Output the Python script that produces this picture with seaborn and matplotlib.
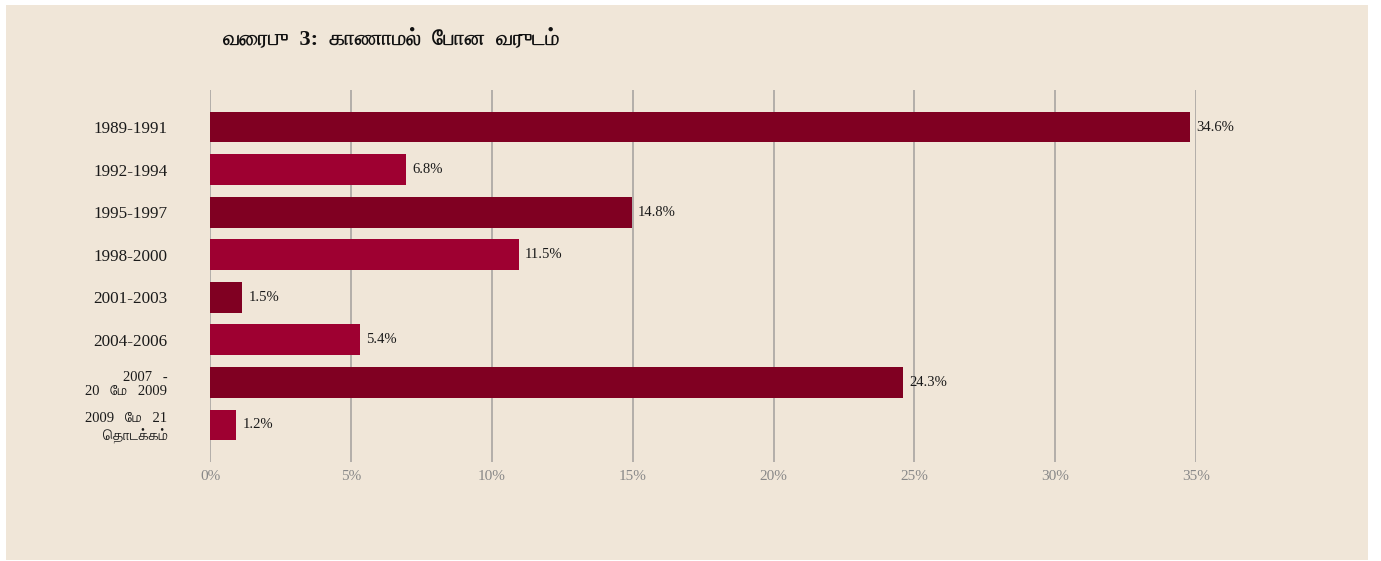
import matplotlib
matplotlib.use("Agg")
import matplotlib.pyplot as plt
from matplotlib.patches import Rectangle
from matplotlib import font_manager as fm
from matplotlib.ft2font import FT2Font
import seaborn as sns
import pandas as pd

categories = ["1989-1991", "1992-1994", "1995-1997", "1998-2000", "2001-2003",
              "2004-2006", "2007   -\n20   மே   2009", "2009   மே   21\nதொடக்கம்"]
# bar lengths as drawn in the picture (percent)
bar_values = [34.8, 6.93, 14.96, 10.94, 1.12, 5.32, 24.59, 0.91]
# value labels as printed next to the bars
value_labels = ["34.6%", "6.8%", "14.8%", "11.5%", "1.5%", "5.4%", "24.3%", "1.2%"]
xticks = [0, 5, 10, 15, 20, 25, 30, 35]
xticklabels = ["0%", "5%", "10%", "15%", "20%", "25%", "30%", "35%"]
title = "வரைபு  3:  காணாமல்  போன  வருடம்"
bar_colors = ["#800022", "#9E0031"] * 4

# Tamil vowel signs that are drawn before their consonant
PREBASE = {"\u0BC6", "\u0BC7", "\u0BC8"}
SPLIT = {"\u0BCA": ("\u0BC6", "\u0BBE"), "\u0BCB": ("\u0BC7", "\u0BBE"),
         "\u0BCC": ("\u0BC6", "\u0BD7")}


def visual(s):
    out = []
    for ch in s:
        if ch in SPLIT and out:
            pre, post = SPLIT[ch]
            cons = out.pop()
            out += [pre, cons, post]
        elif ch in PREBASE and out:
            cons = out.pop()
            out += [ch, cons]
        else:
            out.append(ch)
    return "".join(out)


def find_tamil():
    fams = {}
    for f in fm.fontManager.ttflist:
        try:
            ft = FT2Font(f.fname)
            if 0x0BB5 in ft.get_charmap():
                w = f.weight if isinstance(f.weight, int) else 400
                fams.setdefault(f.name, set()).add(w)
        except Exception:
            pass
    if not fams:
        return None
    def score(n):
        return (max(fams[n]) >= 600, "Serif" in n)
    return sorted(fams, key=score, reverse=True)[0]


sns.set_theme(style="white")
tamil = find_tamil()
fam = ["Liberation Serif"] + ([tamil] if tamil else []) + ["DejaVu Sans"]
plt.rcParams["font.family"] = fam

bg = "#F0E6D8"
fig = plt.figure(figsize=(13.81, 5.61), dpi=100, facecolor="white")
fig.patches.append(Rectangle((6 / 1381, 1 / 561), 1362 / 1381, 555 / 561,
                             transform=fig.transFigure, facecolor=bg,
                             edgecolor="none", zorder=-10))
ax = fig.add_axes([210.5 / 1381, 1 - 462 / 561, 985.5 / 1381, 372 / 561])
ax.set_facecolor(bg)

df = pd.DataFrame({"cat": categories, "value": bar_values})
sns.barplot(data=df, x="value", y="cat", hue="cat", palette=bar_colors,
            legend=False, width=0.724, saturation=1, orient="h", ax=ax,
            linewidth=0, edgecolor="none")

for cont, lab in zip(ax.containers, value_labels):
    ax.bar_label(cont, labels=[lab], padding=4.5, fontsize=10.5,
                 color="#1a1a1a", clip_on=False)

ax.set_xlim(0, 35)
ax.set_ylim(7.87, -0.87)
ax.set_xticks(xticks)
ax.set_xticklabels(xticklabels)
ax.grid(axis="x", color="#AEAAA6", linewidth=1.3)
ax.grid(axis="y", visible=False)
ax.set_axisbelow(True)
for s in ax.spines.values():
    s.set_visible(False)
ax.tick_params(axis="x", length=0, pad=6, labelsize=11, labelcolor="#888888")
ax.tick_params(axis="y", length=0, pad=31, labelsize=12.3, labelcolor="#1a1a1a")
ax.set_yticks(range(len(categories)))
ax.set_yticklabels([visual(c) for c in categories])
for t in ax.get_yticklabels()[6:]:
    t.set_fontsize(10.5)
    t.set_linespacing(1.15)
ax.set_xlabel("")
ax.set_ylabel("")

fig.text(222 / 1381, 1 - 39 / 561, visual(title), fontsize=16, fontweight="bold",
         color="#111111", ha="left", va="center")

fig.savefig("out.png", dpi=100, facecolor="white")
